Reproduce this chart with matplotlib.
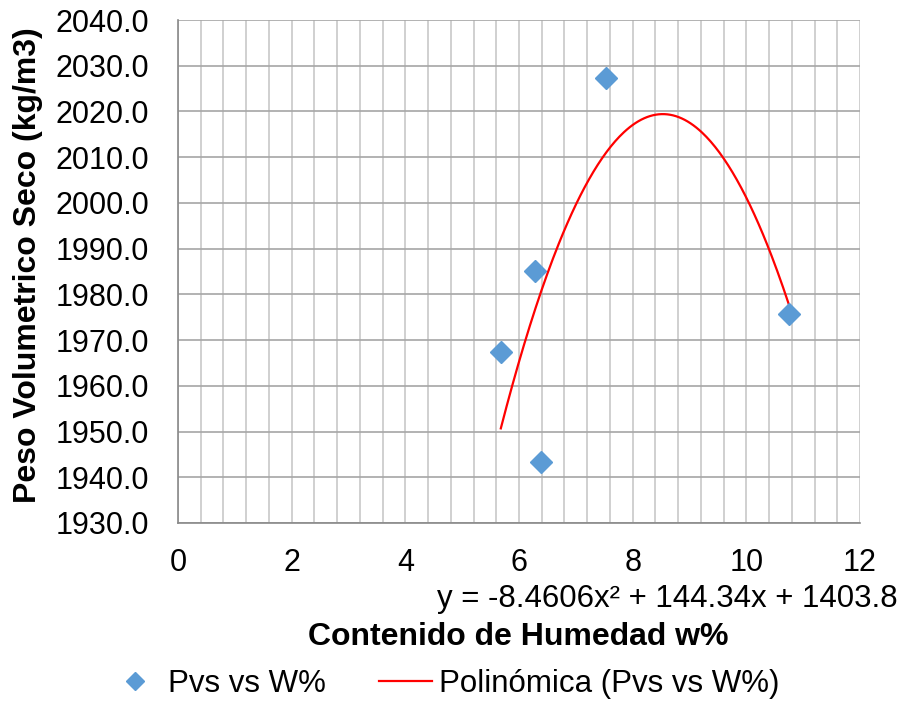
import numpy as np
import matplotlib
matplotlib.use("Agg")
import matplotlib.pyplot as plt
from matplotlib.ticker import MultipleLocator

plt.rcParams['font.family'] = ['Liberation Sans', 'DejaVu Sans']

# humedad (%) y peso volumetrico seco (kg/m3)
humedad = [5.68, 6.28, 6.39, 7.53, 10.75]
pvs = [1967.4, 1985.1, 1943.4, 2027.4, 1975.7]

# coeficientes de la linea de tendencia polinomica (grado 2)
coef = [-8.4606, 144.34, 1403.8]

fig = plt.figure(figsize=(9.03, 7.01), dpi=100)
ax = fig.add_axes([178 / 903, 1 - 523 / 701, (860 - 178) / 903, (523 - 20) / 701])

xs = np.linspace(min(humedad), max(humedad), 200)
ax.plot(xs, np.polyval(coef, xs), color='#ff0000', lw=1.6, zorder=3,
        label='Polinómica (Pvs vs W%)')
ax.plot(humedad, pvs, 'D', color='#5b9bd5', markersize=11, zorder=4,
        linestyle='none', label='Pvs vs W%')

ax.set_xlim(0, 12)
ax.set_ylim(1930, 2040)
ax.xaxis.set_major_locator(MultipleLocator(2))
ax.xaxis.set_minor_locator(MultipleLocator(0.4))
yt = np.arange(1930, 2041, 10)
ax.set_yticks(yt)
ax.set_yticklabels([f"{v:.1f}" for v in yt])

ax.grid(True, which='major', axis='y', color='#a6a6a6', lw=1.2)
ax.grid(True, which='both', axis='x', color='#c8c8c8', lw=1.2)
ax.set_axisbelow(True)
for s in ['top', 'right']:
    ax.spines[s].set_visible(False)
for s in ['left', 'bottom']:
    ax.spines[s].set_color('#898989')
    ax.spines[s].set_linewidth(1.2)
ax.tick_params(which='both', length=0, labelsize=22)
ax.tick_params(axis='y', pad=21)
ax.tick_params(axis='x', pad=18)

fig.text(28 / 903, 1 - 265 / 701, 'Peso Volumetrico Seco (kg/m3)', fontsize=23,
         fontweight='bold', rotation=90, ha='center', va='center')
fig.text(518 / 903, 1 - 637 / 701, 'Contenido de Humedad w%', fontsize=23,
         fontweight='bold', ha='center', va='center')
fig.text(898 / 903, 1 - 607 / 701, 'y = -8.4606x² + 144.34x + 1403.8', fontsize=22.5,
         ha='right', va='baseline')

h, l = ax.get_legend_handles_labels()
fig.legend(h[::-1], l[::-1], loc='center', bbox_to_anchor=(444 / 903, 1 - 684 / 701),
           ncol=2, frameon=False, fontsize=22.5, handlelength=1.7, columnspacing=1.7,
           handletextpad=0.2, borderpad=0, borderaxespad=0, markerscale=0.8)

fig.savefig('out.png', dpi=100)
